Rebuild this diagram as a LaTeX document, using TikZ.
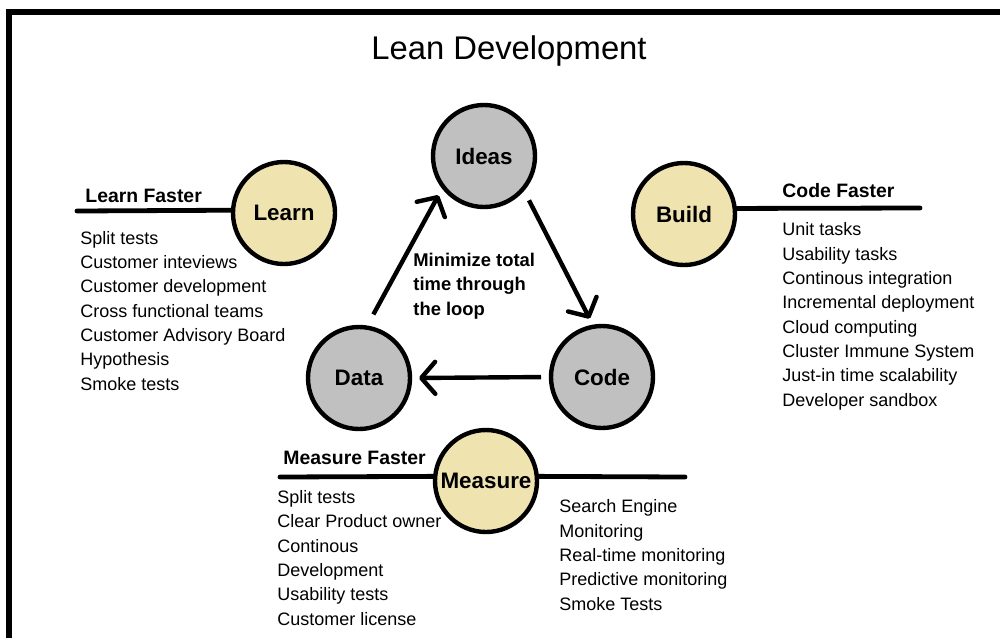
\documentclass[tikz,border=0pt]{standalone}
\usepackage{fontspec}
\setmainfont{Liberation Sans}
\usetikzlibrary{arrows.meta, positioning}
\definecolor{loopgray}{HTML}{C0C0C0}
\definecolor{stagesand}{HTML}{EFE3AF}

\begin{document}
\begin{tikzpicture}[
    x=0.5pt, y=-0.5pt,
    stage/.style={circle, draw, line width=2.2pt, minimum size=51pt, inner sep=0pt, font=\fontsize{11.2}{13}\selectfont\bfseries},
    loopstage/.style={stage, fill=loopgray},
    fasterstage/.style={stage, fill=stagesand},
    heading/.style={inner sep=0pt, anchor=base west, font=\fontsize{9.7}{12}\selectfont\bfseries},
    % lists are placed by the baseline of their last line
    items/.style={inner sep=0pt, anchor=base west, align=left, font=\fontsize{9}{12.15}\selectfont},
    arrow/.style={-{Straight Barb[length=7pt, width=16pt, round]}, line width=2.2pt},
    bar/.style={line width=2.4pt, line cap=round}
]
\useasboundingbox (0,0) rectangle (1000,638);

% frame, open at the right and bottom
\draw[line width=2.9pt] (9,638) -- (9,12) -- (1000,12);

\node (title) [anchor=base, inner sep=0pt, font=\fontsize{16.4}{20}\selectfont] at (509,59) {Lean Development};

% the loop
\node (ideas) [loopstage] at (484,156) {Ideas};
\node (code) [loopstage] at (602,377) {Code};
\node (data) [loopstage] at (359,378) {Data};

\draw[arrow, shorten <=6.3pt, shorten >=3.7pt] (data.81) -- (ideas.218);
\draw[arrow, shorten <=5.3pt, shorten >=3.4pt] (ideas.319) -- (code.100);
\draw[arrow, shorten <=3.9pt, shorten >=3.4pt] (code.west) -- (data.east);

\node (goal) [items, font=\fontsize{9.2}{12.1}\selectfont\bfseries] at (413,315) {Minimize total\\time through\\the loop};

% learn
\node (learn) [fasterstage] at (284,213) {Learn};
\coordinate (learnend) at (77,211);
\draw[bar] (learnend) -- (learn.177);
\node (learnhead) [heading] at (85,202) {Learn Faster};
\node (learnlist) [items] at (80,390) {Split tests\\Customer inteviews\\Customer development\\Cross functional teams\\Customer Advisory Board\\Hypothesis\\Smoke tests};

% build
\node (build) [fasterstage] at (684,214) {Build};
\coordinate (buildend) at (920,208);
\draw[bar] (build.6.5) -- (buildend);
\node (buildhead) [heading] at (782,197) {Code Faster};
\node (buildlist) [items] at (782,406) {Unit tasks\\Usability tasks\\Continous integration\\Incremental deployment\\Cloud computing\\Cluster Immune System\\Just-in time scalability\\Developer sandbox};

% measure
\node (measure) [fasterstage] at (486,481) {Measure};
\coordinate (measleft) at (280,477);
\coordinate (measright) at (685,477);
\draw[bar] (measleft) -- (measure.175);
\draw[bar] (measure.5) -- (measright);
\node (meashead) [heading] at (283,464) {Measure Faster};
\node (measlist) [items] at (277,625) {Split tests\\Clear Product owner\\Continous\\Development\\Usability tests\\Customer license};
\node (monlist) [items] at (559,610) {Search Engine\\Monitoring\\Real-time monitoring\\Predictive monitoring\\Smoke Tests};
\end{tikzpicture}
\end{document}
